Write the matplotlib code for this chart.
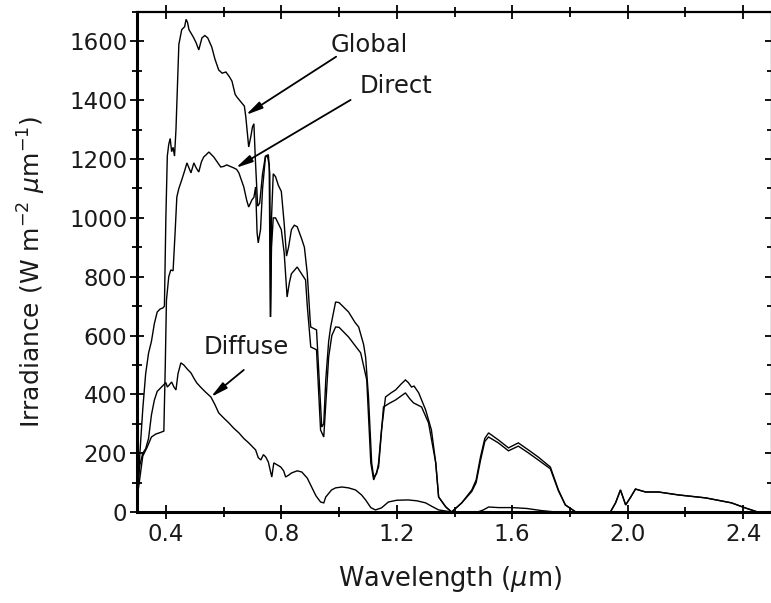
import matplotlib
matplotlib.use("Agg")
import matplotlib.pyplot as plt
from matplotlib.ticker import MultipleLocator, FormatStrFormatter

plt.rcParams['font.family'] = ['DejaVu Sans']

# ---- data ----
global_wl = [0.295, 0.300, 0.310, 0.320, 0.330, 0.340, 0.350, 0.360, 0.370, 0.380,
             0.390, 0.395, 0.400, 0.405, 0.410, 0.415, 0.420, 0.425, 0.430, 0.435,
             0.440, 0.445, 0.455, 0.465, 0.470, 0.475, 0.480, 0.487, 0.495, 0.505,
             0.514, 0.525, 0.535, 0.545, 0.559, 0.570, 0.583, 0.595, 0.608, 0.620,
             0.629, 0.640, 0.646, 0.663, 0.672, 0.677, 0.687, 0.695, 0.700, 0.705,
             0.710, 0.718, 0.725, 0.735, 0.745, 0.755, 0.760, 0.763, 0.766, 0.772,
             0.780, 0.790, 0.800, 0.810, 0.818, 0.825, 0.835, 0.845, 0.855, 0.870,
             0.880, 0.890, 0.900, 0.902, 0.920, 0.922, 0.930, 0.940, 0.947, 0.954,
             0.964, 0.971, 0.988, 1.000, 1.033, 1.055, 1.068, 1.085, 1.092, 1.102,
             1.113, 1.120, 1.130, 1.137, 1.147, 1.161, 1.180, 1.196, 1.215, 1.230,
             1.240, 1.251, 1.260, 1.276, 1.300, 1.320, 1.335, 1.345, 1.370, 1.390,
             1.425, 1.460, 1.475, 1.490, 1.505, 1.518, 1.552, 1.587, 1.621, 1.656,
             1.690, 1.732, 1.760, 1.784, 1.820, 1.940, 1.958, 1.975, 1.993, 2.010,
             2.027, 2.062, 2.107, 2.176, 2.270, 2.360, 2.407, 2.450, 2.500]
global_irr = [0, 30, 200, 350, 470, 540, 580, 640, 680, 690,
              694, 700, 1000, 1210, 1250, 1270, 1225, 1240, 1210, 1300,
              1450, 1590, 1640, 1650, 1675, 1665, 1640, 1628, 1615, 1595,
              1571, 1612, 1620, 1612, 1581, 1540, 1503, 1492, 1496, 1480,
              1465, 1420, 1411, 1391, 1380, 1343, 1241, 1280, 1309, 1320,
              1200, 1040, 1050, 1150, 1210, 1215, 1150, 663, 1000, 1150,
              1140, 1110, 1090, 980, 870, 900, 960, 975, 970, 930,
              900, 810, 650, 629, 620, 619, 473, 289, 300, 449,
              580, 630, 714, 712, 680, 645, 629, 570, 527, 391,
              167, 119, 130, 167, 279, 391, 405, 415, 435, 449,
              440, 425, 428, 405, 347, 279, 167, 51, 17, 0,
              31, 75, 109, 187, 250, 269, 245, 218, 235, 211,
              187, 153, 75, 24, 0, 0, 31, 75, 24, 50,
              78, 68, 68, 58, 48, 31, 14, 0, 0]

direct_wl = [0.295, 0.305, 0.320, 0.335, 0.350, 0.365, 0.380, 0.393, 0.398, 0.402,
             0.410, 0.417, 0.425, 0.432, 0.438, 0.445, 0.455, 0.465, 0.473, 0.480,
             0.487, 0.497, 0.505, 0.514, 0.523, 0.531, 0.540, 0.549, 0.566, 0.578,
             0.590, 0.600, 0.611, 0.623, 0.635, 0.645, 0.653, 0.670, 0.680, 0.687,
             0.698, 0.705, 0.711, 0.716, 0.720, 0.728, 0.735, 0.745, 0.752, 0.758,
             0.762, 0.766, 0.772, 0.780, 0.790, 0.800, 0.810, 0.820, 0.828, 0.835,
             0.855, 0.870, 0.884, 0.890, 0.902, 0.915, 0.922, 0.936, 0.947, 0.964,
             0.975, 0.988, 1.000, 1.033, 1.060, 1.075, 1.096, 1.110, 1.120, 1.137,
             1.154, 1.175, 1.196, 1.230, 1.245, 1.258, 1.286, 1.310, 1.335, 1.345,
             1.370, 1.390, 1.425, 1.460, 1.475, 1.490, 1.505, 1.518, 1.552, 1.587,
             1.621, 1.656, 1.690, 1.732, 1.760, 1.784, 1.820, 1.940, 1.958, 1.975,
             1.993, 2.010, 2.027, 2.062, 2.107, 2.176, 2.270, 2.360, 2.407, 2.450,
             2.500]
direct_irr = [0, 80, 190, 220, 255, 265, 270, 275, 500, 720,
              800, 823, 820, 950, 1071, 1100, 1129, 1160, 1187, 1170,
              1153, 1187, 1170, 1156, 1190, 1207, 1215, 1224, 1207, 1190,
              1173, 1175, 1180, 1175, 1170, 1165, 1153, 1105, 1060, 1037,
              1061, 1070, 1105, 950, 915, 960, 1100, 1207, 1210, 1180,
              663, 900, 1000, 1000, 980, 960, 880, 731, 780, 810,
              833, 810, 789, 700, 561, 555, 551, 279, 255, 527,
              600, 629, 628, 595, 560, 541, 449, 167, 109, 153,
              357, 370, 381, 405, 385, 371, 357, 303, 167, 51,
              17, 0, 31, 70, 100, 175, 240, 255, 235, 208,
              224, 201, 177, 147, 72, 24, 0, 0, 31, 75,
              24, 50, 78, 68, 68, 58, 48, 31, 14, 0,
              0]

diffuse_wl = [0.295, 0.300, 0.310, 0.320, 0.330, 0.340, 0.350, 0.360, 0.370, 0.380,
              0.390, 0.400, 0.405, 0.410, 0.420, 0.428, 0.435, 0.442, 0.452, 0.462,
              0.475, 0.487, 0.497, 0.507, 0.520, 0.535, 0.556, 0.570, 0.583, 0.600,
              0.618, 0.635, 0.653, 0.670, 0.687, 0.700, 0.711, 0.720, 0.729, 0.738,
              0.746, 0.755, 0.762, 0.767, 0.774, 0.786, 0.798, 0.808, 0.815, 0.825,
              0.836, 0.855, 0.871, 0.890, 0.905, 0.920, 0.936, 0.947, 0.954, 0.974,
              0.988, 1.010, 1.033, 1.057, 1.078, 1.092, 1.110, 1.126, 1.147, 1.171,
              1.200, 1.240, 1.270, 1.300, 1.320, 1.345, 1.390, 1.480, 1.500, 1.518,
              1.552, 1.600, 1.650, 1.700, 1.750, 2.500]
diffuse_irr = [0, 60, 160, 200, 215, 250, 330, 380, 410, 420,
               430, 440, 425, 430, 442, 425, 415, 470, 507, 500,
               485, 473, 455, 439, 425, 410, 391, 365, 337, 320,
               303, 285, 269, 250, 235, 222, 211, 185, 177, 195,
               187, 170, 140, 119, 167, 160, 153, 140, 119, 125,
               133, 140, 136, 115, 85, 55, 34, 31, 51, 75,
               82, 85, 82, 75, 58, 41, 15, 7, 14, 34,
               40, 41, 38, 31, 20, 7, 0, 0, 7, 17,
               15, 15, 12, 5, 0, 0]

xlim = (0.3, 2.5)
ylim = (0, 1700)

fig = plt.figure(figsize=(7.71, 6.03), dpi=100)
ax = fig.add_axes([137 / 771, 91 / 603, 635 / 771, 500 / 603])

for wl, irr in ((global_wl, global_irr), (direct_wl, direct_irr), (diffuse_wl, diffuse_irr)):
    ax.plot(wl, irr, color='black', lw=1.0, solid_joinstyle='miter')

ax.set_xlim(*xlim)
ax.set_ylim(*ylim)

ax.xaxis.set_major_locator(MultipleLocator(0.4))
ax.xaxis.set_minor_locator(MultipleLocator(0.2))
ax.yaxis.set_major_locator(MultipleLocator(200))
ax.yaxis.set_minor_locator(MultipleLocator(100))
ax.xaxis.set_major_formatter(FormatStrFormatter('%.1f'))
ax.tick_params(which='both', direction='inout', top=True, right=True, width=1.3)
ax.tick_params(which='major', length=10, labelsize=16.5, pad=3, labelcolor='#1a1a1a')
ax.tick_params(which='minor', length=7)
ax.tick_params(axis='y', which='major', pad=2)

for side in ('left', 'bottom'):
    ax.spines[side].set_linewidth(2.2)
ax.spines['top'].set_linewidth(1.6)
ax.spines['right'].set_linewidth(1.6)

ax.set_xlabel('Wavelength ($\\mu$m)', fontsize=18.5, color='#1a1a1a')
ax.set_ylabel('Irradiance (W m$^{-2}$ $\\mu$m$^{-1}$)', fontsize=18, color='#1a1a1a')
ax.xaxis.set_label_coords(0.493, -0.105)
ax.yaxis.set_label_coords(-0.14, 0.48)

arrow = dict(arrowstyle='-|>,head_length=1.0,head_width=0.22', color='black', lw=1.3,
             shrinkA=0, shrinkB=0)
ax.annotate('', xy=(0.677, 1350), xytext=(0.99, 1548), arrowprops=arrow)
ax.text(1.103, 1588, 'Global', fontsize=17.5, ha='center', va='center', color='#1a1a1a')
ax.annotate('', xy=(0.642, 1170), xytext=(1.04, 1401), arrowprops=arrow)
ax.text(1.196, 1448, 'Direct', fontsize=17.5, ha='center', va='center', color='#1a1a1a')
ax.annotate('', xy=(0.556, 391), xytext=(0.67, 483), arrowprops=arrow)
ax.text(0.677, 561, 'Diffuse', fontsize=17.5, ha='center', va='center', color='#1a1a1a')

fig.savefig('out.png', dpi=100)
